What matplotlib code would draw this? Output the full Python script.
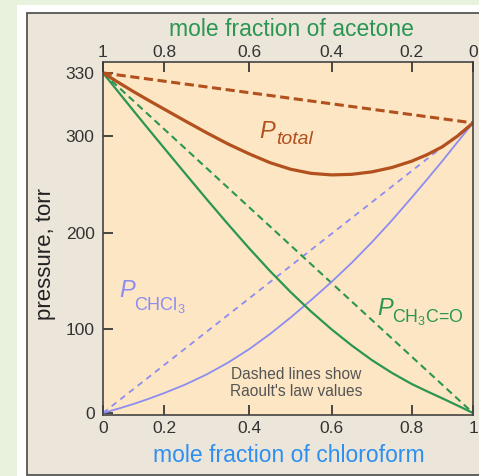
import numpy as np
import matplotlib
matplotlib.use("Agg")
import matplotlib.pyplot as plt
from matplotlib.patches import Rectangle

plt.rcParams['font.family'] = ['Liberation Sans', 'DejaVu Sans']
plt.rcParams['mathtext.fontset'] = 'custom'
plt.rcParams['mathtext.rm'] = 'Liberation Sans'
plt.rcParams['mathtext.it'] = 'Liberation Sans:italic'
plt.rcParams['mathtext.default'] = 'regular'

# ---------------- data ----------------
x_chcl3 = [0.00, 0.05, 0.10, 0.15, 0.20, 0.25, 0.30, 0.35, 0.40, 0.45, 0.50,
           0.55, 0.60, 0.65, 0.70, 0.75, 0.80, 0.85, 0.90, 0.95, 1.00]
p_total = [330.0, 325.5, 321.1, 316.9, 312.8, 307.1, 301.5, 291.7, 281.4, 272.4, 265.6,
           261.3, 259.7, 260.3, 262.8, 267.3, 273.9, 280.6, 288.8, 300.0, 306.2]
p_acetone = [330.0, 321.0, 312.0, 303.1, 287.6, 261.0, 234.6, 208.8, 183.6, 160.3, 138.4,
             118.1, 99.4, 80.4, 63.1, 47.9, 34.5, 25.8, 17.4, 8.8, 0.0]
p_chcl3 = [0.0, 5.1, 10.7, 16.9, 23.6, 33.9, 45.9, 59.9, 76.1, 93.9, 111.8,
           130.0, 149.0, 168.7, 189.9, 212.5, 236.3, 255.0, 274.1, 293.9, 306.2]

raoult_x = [0.0, 1.0]
raoult_total = [330.0, 306.2]
raoult_acetone = [330.0, 0.0]
raoult_chcl3 = [0.0, 306.2]

x_ticks = [0, 0.2, 0.4, 0.6, 0.8, 1]
x_ticklabels = ['0', '0.2', '0.4', '0.6', '0.8', '1']
acetone_ticks = [1, 0.8, 0.6, 0.4, 0.2, 0]
acetone_ticklabels = ['1', '0.8', '0.6', '0.4', '0.2', '0']
y_ticks = [0, 100, 200, 300, 330]
y_ticklabels = ['0', '100', '200', '300', '330']

# ---------------- colours ----------------
BROWN = '#b2501e'
GREEN = '#2a9652'
PURPLE = '#8c8cf2'
BLUE = '#2e8ff0'
DARK = '#333333'
TICK = '#3a3a3a'


# piecewise-linear axis scales (the original drawing's tick spacing)
def piecewise(src, dst):
    src = np.asarray(src, float)
    dst = np.asarray(dst, float)
    s0 = (dst[1] - dst[0]) / (src[1] - src[0])
    s1 = (dst[-1] - dst[-2]) / (src[-1] - src[-2])

    def f(v):
        v = np.asarray(v, float)
        out = np.interp(v, src, dst)
        out = np.where(v < src[0], dst[0] + (v - src[0]) * s0, out)
        out = np.where(v > src[-1], dst[-1] + (v - src[-1]) * s1, out)
        return out
    return f


x_knots = [0, 0.2, 0.4, 0.6, 0.8, 1.0]
x_pos = [0, 61, 146.3, 228.7, 308.7, 370]
y_knots = [0, 100, 200, 300, 330]
y_pos = [0, 84, 180.3, 277, 340]
fx, fx_inv = piecewise(x_knots, x_pos), piecewise(x_pos, x_knots)
fy, fy_inv = piecewise(y_knots, y_pos), piecewise(y_pos, y_knots)

W, H = 479, 476
fig = plt.figure(figsize=(W / 100, H / 100), dpi=100)
fig.patch.set_facecolor('#e8f2dd')
fig.add_artist(Rectangle((17 / W, 0), 1, 1 - 5 / H, transform=fig.transFigure,
                         facecolor='white', edgecolor='none', zorder=-3))
fig.add_artist(Rectangle((26.5 / W, 1.5 / H), 1, 1 - 13 / H - 1.5 / H,
                         transform=fig.transFigure, facecolor='#ece5d9',
                         edgecolor='#555555', linewidth=1.3, zorder=-2))

ax = fig.add_axes([103 / W, (H - 415) / H, 370 / W, 353 / H])
ax.set_facecolor('#fde6c3')
ax.set_xscale('function', functions=(fx, fx_inv))
ax.set_yscale('function', functions=(fy, fy_inv))

# Raoult's law (dashed)
ax.plot(raoult_x, raoult_chcl3, color=PURPLE, lw=1.3, dashes=(3.3, 2.8))
ax.plot(raoult_x, raoult_acetone, color=GREEN, lw=1.5, dashes=(3.4, 2.2))
ax.plot(raoult_x, raoult_total, color=BROWN, lw=2.2, dashes=(3.0, 1.5))
# real curves
ax.plot(x_chcl3, p_chcl3, color=PURPLE, lw=1.3)
ax.plot(x_chcl3, p_acetone, color=GREEN, lw=1.6)
ax.plot(x_chcl3, p_total, color=BROWN, lw=2.3)

ax.set_xlim(0, 1)
ax.set_ylim(-2.4, 335.2)
ax.set_xticks(x_ticks, labels=x_ticklabels)
ax.set_yticks(y_ticks, labels=y_ticklabels)
ax.minorticks_off()
for s in ax.spines.values():
    s.set_color('#444444')
    s.set_linewidth(1.2)

ax2 = ax.twiny()
ax2.set_xscale('function', functions=(fx, fx_inv))
ax2.set_xlim(0, 1)
ax2.set_xticks([1 - a for a in acetone_ticks], labels=acetone_ticklabels)
ax2.minorticks_off()
for s in ax2.spines.values():
    s.set_visible(False)

ax.tick_params(axis='x', which='major', direction='in', length=7, width=1.3,
               color=TICK, labelcolor=DARK, labelsize=12.5, pad=4.5,
               bottom=True, top=False)
ax.tick_params(axis='y', which='major', direction='in', length=7, width=1.3,
               color=TICK, labelcolor=DARK, labelsize=12.5, pad=6.0,
               left=True, right=False)
ax2.tick_params(axis='x', which='major', direction='in', length=7, width=1.3,
                color=TICK, labelcolor=DARK, labelsize=12.5, pad=1.5,
                top=True, bottom=False)


def axpos(px, py):
    return ((px - 103) / 370, (415 - py) / 353)


# curve labels
ax.text(*axpos(259.5, 137.5), 'P', color=BROWN, fontsize=17, fontstyle='italic',
        transform=ax.transAxes, va='baseline', ha='left')
ax.text(*axpos(276, 144), 'total', color=BROWN, fontsize=14, fontstyle='italic',
        transform=ax.transAxes, va='baseline', ha='left')
ax.text(*axpos(119.5, 296.7), 'P', color=PURPLE, fontsize=17, fontstyle='italic',
        transform=ax.transAxes, va='baseline', ha='left')
ax.text(*axpos(133.5, 310), 'CHCl$_3$', color=PURPLE, fontsize=13,
        transform=ax.transAxes, va='baseline', ha='left')
ax.text(*axpos(377.5, 315), 'P', color=GREEN, fontsize=17, fontstyle='italic',
        transform=ax.transAxes, va='baseline', ha='left')
ax.text(*axpos(391.5, 322.3), 'CH$_3$C=O', color=GREEN, fontsize=12.8,
        transform=ax.transAxes, va='baseline', ha='left')
ax.text(*axpos(296.5, 383), "Dashed lines show\nRaoult's law values", color='#555555',
        fontsize=11.2, transform=ax.transAxes, va='center', ha='center',
        linespacing=1.15)

# axis titles
fig.text(291.5 / W, 1 - 30 / H, 'mole fraction of acetone', color=GREEN,
         fontsize=16.5, ha='center', va='center')
fig.text(288.5 / W, 1 - 455 / H, 'mole fraction of chloroform', color=BLUE,
         fontsize=16.5, ha='center', va='center')
fig.text(46 / W, 1 - 254 / H, 'pressure, torr', color='#222222', fontsize=16,
         rotation=90, ha='center', va='center')

fig.savefig('out.png', dpi=100)
